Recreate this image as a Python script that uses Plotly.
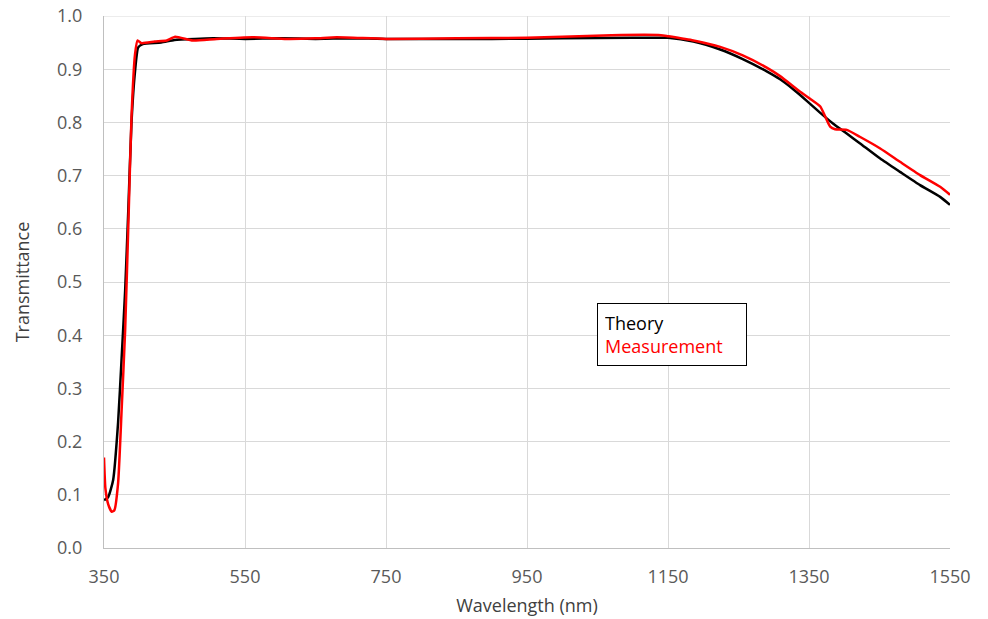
import plotly.graph_objects as go

# Theory curve (black)
wl_theory = [350, 356, 363, 370, 375, 380, 384.5, 389, 394, 398.5, 405, 431, 450, 479,
             505, 550, 600, 650, 700, 750, 800, 900, 1000, 1100, 1150, 1186, 1224, 1256,
             1290, 1309, 1328, 1337, 1366, 1384, 1403.5, 1422, 1451, 1479, 1507.5, 1536, 1550]
t_theory = [0.09, 0.096, 0.128, 0.236, 0.357, 0.484, 0.636, 0.80, 0.896, 0.941, 0.947, 0.950,
            0.955, 0.957, 0.958, 0.957, 0.958, 0.957, 0.958, 0.957, 0.957, 0.957, 0.958, 0.959,
            0.959, 0.952, 0.937, 0.919, 0.896, 0.881, 0.862, 0.852, 0.818, 0.798, 0.779, 0.761,
            0.732, 0.707, 0.682, 0.660, 0.645]

# Measurement curve (red)
wl_meas = [350, 352, 356, 361, 364.7, 370, 375, 380, 385, 389, 394, 397.6, 403, 422, 439, 451,
           476, 510, 561, 609, 650, 680, 750, 850, 950, 1000, 1070, 1140, 1150, 1186, 1224,
           1256, 1290, 1309, 1337, 1351, 1366, 1373, 1380, 1387, 1403.5, 1422, 1451, 1479,
           1507.5, 1536, 1550]
t_meas = [0.17, 0.112, 0.082, 0.068, 0.071, 0.122, 0.26, 0.41, 0.63, 0.81, 0.928, 0.954, 0.949,
          0.952, 0.954, 0.961, 0.954, 0.957, 0.960, 0.957, 0.958, 0.960, 0.957, 0.958, 0.959,
          0.961, 0.964, 0.964, 0.962, 0.954, 0.942, 0.926, 0.903, 0.887, 0.858, 0.845, 0.830,
          0.811, 0.792, 0.787, 0.786, 0.773, 0.751, 0.726, 0.701, 0.679, 0.664]

x_ticks = [350, 550, 750, 950, 1150, 1350, 1550]
y_ticks = [0.0, 0.1, 0.2, 0.3, 0.4, 0.5, 0.6, 0.7, 0.8, 0.9, 1.0]

FONT = "Open Sans"
TICK_COLOR = "#595959"
GRID = "#d9d9d9"

fig = go.Figure()
fig.add_trace(go.Scatter(x=wl_theory, y=t_theory, mode="lines", name="Theory",
                         line=dict(color="#000000", width=2.5, shape="spline", smoothing=0.5),
                         showlegend=False))
fig.add_trace(go.Scatter(x=wl_meas, y=t_meas, mode="lines", name="Measurement",
                         line=dict(color="#ff0000", width=2.5, shape="spline", smoothing=0.5),
                         showlegend=False))

fig.add_annotation(
    xref="paper", yref="paper", x=(597 - 104) / 846, y=(548 - 303) / 532,
    xanchor="left", yanchor="top", align="left", showarrow=False,
    text="Theory<br><span style='color:#ff0000'>Measurement</span>",
    font=dict(family=FONT, size=18, color="#000000"),
    bordercolor="#000000", borderwidth=1, borderpad=7, bgcolor="#ffffff",
    width=134,
)

fig.update_layout(
    width=988, height=619,
    margin=dict(l=104, r=38, t=16, b=71, autoexpand=False),
    paper_bgcolor="#ffffff", plot_bgcolor="#ffffff",
    font=dict(family=FONT, size=18, color=TICK_COLOR),
    xaxis=dict(range=[350, 1550], tickvals=x_ticks, ticktext=[str(v) for v in x_ticks],
               showgrid=True, gridcolor=GRID, gridwidth=1, automargin=False,
               showline=True, linecolor="#bfbfbf", linewidth=1, mirror=False,
               zeroline=False, ticks="", ticklabelstandoff=12, ticklabeloverflow="allow",
               title=dict(text="Wavelength (nm)", font=dict(family=FONT, size=18, color="#404040"),
                          standoff=12)),
    yaxis=dict(range=[0, 1], tickvals=y_ticks, ticktext=[f"{v:.1f}" for v in y_ticks],
               showgrid=True, gridcolor=GRID, gridwidth=1, automargin=False,
               showline=True, linecolor="#bfbfbf", linewidth=1,
               zeroline=False, ticks="", ticklabelstandoff=17, ticklabeloverflow="allow",
               title=dict(text="Transmittance", font=dict(family=FONT, size=18, color="#404040"),
                          standoff=22)),
)
# top gridline at 1.0 drawn explicitly in case the edge gridline is suppressed
fig.add_hline(y=1.0, line=dict(color=GRID, width=1), layer="below")

fig.write_html("out.html",
               config={"displayModeBar": False, "staticPlot": True},
               post_script="document.body.style.margin='0px';document.body.style.overflow='hidden';")
